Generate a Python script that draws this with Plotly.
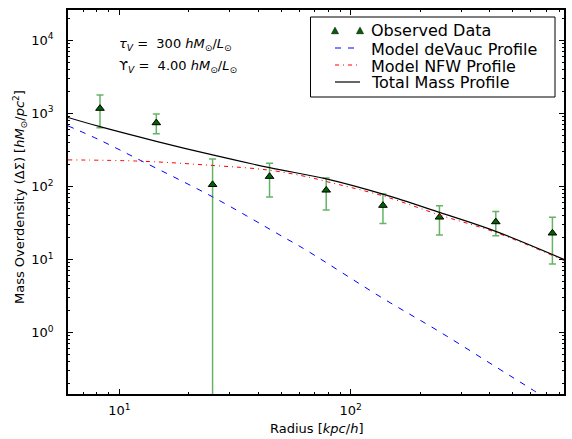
import numpy as np
import plotly.graph_objects as go

# Observed data
radius_obs = [8.25, 14.45, 25.3, 44.6, 78.4, 137.9, 242, 424, 745]
sigma_obs = [1170, 743, 106, 137, 89, 55, 38, 32.8, 23]
err_hi = [1780, 980, 237, 208, 131, 79, 54.3, 45.5, 38]
err_lo = [636, 526, 0.01, 71.5, 47.5, 31.2, 21.6, 21.1, 8.7]

# Model curves
radius_total = [6.0, 8.25, 14.45, 25.3, 44.6, 78.4, 137.9, 242, 424, 850]
sigma_total = [879, 658, 415, 270, 181, 127, 78.5, 44.2, 24.3, 9.8]

radius_nfw = [6.0, 12.3, 25.3, 44.6, 66.7, 78.4, 137.9, 242, 424, 850]
sigma_nfw = [231, 222, 194, 167, 133, 117, 74.3, 40.8, 23.5, 9.5]

radius_dev = [6.0, 8.25, 12.3, 25.3, 49.5, 64.1, 137.9, 242, 424, 615, 850]
sigma_dev = [676, 430, 229, 72.1, 21.6, 13.5, 2.94, 1.03, 0.34, 0.163, 0.085]

x_tickvals = [10, 100]
x_ticktext = ["10<sup>1</sup>", "10<sup>2</sup>"]
y_tickvals = [1, 10, 100, 1000, 10000]
y_ticktext = ["10<sup>0</sup>", "10<sup>1</sup>", "10<sup>2</sup>", "10<sup>3</sup>", "10<sup>4</sup>"]

legend_labels = ["Observed Data", "Model deVauc Profile", "Model NFW Profile", "Total Mass Profile"]

# plot-area geometry in pixels (used for layout placement)
W, H = 572, 439
L, R, T, B = 68, 8, 10, 45
PW, PH = W - L - R, H - T - B


def px(xp):
    return (xp - L) / PW


def py(yp):
    return 1 - (yp - T) / PH


fig = go.Figure()

fig.add_trace(go.Scatter(
    x=radius_obs, y=sigma_obs, mode="markers", name=legend_labels[0],
    marker=dict(symbol="triangle-up", size=7.5, color="#006400",
                line=dict(color="black", width=1)),
    error_y=dict(type="data", symmetric=False,
                 array=[h - v for h, v in zip(err_hi, sigma_obs)],
                 arrayminus=[v - l for l, v in zip(err_lo, sigma_obs)],
                 color="rgba(0,128,0,0.6)", thickness=1.5, width=3.5),
))
fig.add_trace(go.Scatter(
    x=radius_dev, y=sigma_dev, mode="lines", name=legend_labels[1],
    line=dict(color="blue", width=1, dash="6px,7px", shape="spline"),
))
fig.add_trace(go.Scatter(
    x=radius_nfw, y=sigma_nfw, mode="lines", name=legend_labels[2],
    line=dict(color="red", width=1, dash="4px,4px,1px,4px", shape="spline"),
))
fig.add_trace(go.Scatter(
    x=radius_total, y=sigma_total, mode="lines", name=legend_labels[3],
    line=dict(color="black", width=1.2, shape="spline"),
))

axis_common = dict(
    type="log", showgrid=False, zeroline=False, showline=True, automargin=False,
    linecolor="black", linewidth=1.5, mirror="allticks",
    ticks="inside", ticklen=5, tickcolor="black", tickwidth=1,
    tickfont=dict(family="DejaVu Sans", size=13, color="black"),
    minor=dict(ticks="inside", ticklen=2.5, tickcolor="black", dtick="D1", showgrid=False),
)

fig.update_xaxes(**axis_common, range=[np.log10(6.0), np.log10(836)],
                 tickvals=x_tickvals, ticktext=x_ticktext, ticklabelstandoff=4)
fig.update_yaxes(**axis_common, range=[-0.84, 4.415],
                 tickvals=y_tickvals, ticktext=y_ticktext, ticklabelstandoff=10)

txt_font = dict(family="DejaVu Sans", size=13, color="black")

# axis titles
fig.add_annotation(xref="paper", yref="paper", x=0.5, y=py(428), xanchor="center", yanchor="middle",
                   showarrow=False, text="Radius [<i>kpc</i>/<i>h</i>]", font=txt_font)
fig.add_annotation(xref="paper", yref="paper", x=px(20), y=py(197), xanchor="center", yanchor="middle",
                   showarrow=False, textangle=-90,
                   text="Mass Overdensity (ΔΣ) [<i>hM</i><sub>⊙</sub>/<i>pc</i><sup>2</sup>]",
                   font=txt_font)

# parameter text
fig.add_annotation(xref="paper", yref="paper", x=px(117), y=py(44.5),
                   xanchor="left", yanchor="middle", showarrow=False,
                   text="<i>τ</i><sub><i>V</i></sub> =  300 <i>hM</i><sub>⊙</sub>/<i>L</i><sub>⊙</sub>",
                   font=txt_font)
fig.add_annotation(xref="paper", yref="paper", x=px(117), y=py(66),
                   xanchor="left", yanchor="middle", showarrow=False,
                   text="ϒ<sub><i>V</i></sub> =  4.00 <i>hM</i><sub>⊙</sub>/<i>L</i><sub>⊙</sub>",
                   font=txt_font)

# legend (drawn as a box with keys, matching the original layout)
shapes = [dict(type="rect", xref="paper", yref="paper", x0=px(310.5), x1=px(555), y0=py(17), y1=py(97),
               line=dict(color="black", width=1), fillcolor="white", layer="above")]
row_y = [30.7, 48, 65, 82]
text_y = [30.7, 49, 66.5, 83]
for cx in (335, 360):
    cy = row_y[0]
    shapes.append(dict(type="path", xref="paper", yref="paper",
                       path=f"M {px(cx-3.5)},{py(cy+3)} L {px(cx+3.5)},{py(cy+3)} L {px(cx)},{py(cy-3.5)} Z",
                       fillcolor="#006400", line=dict(color="black", width=0.6), layer="above"))
shapes.append(dict(type="line", xref="paper", yref="paper", x0=px(335), x1=px(356), y0=py(row_y[1]), y1=py(row_y[1]),
                   line=dict(color="blue", width=1, dash="6px,7px"), layer="above"))
shapes.append(dict(type="line", xref="paper", yref="paper", x0=px(335), x1=px(358), y0=py(row_y[2]), y1=py(row_y[2]),
                   line=dict(color="red", width=1, dash="4px,4px,1px,4px"), layer="above"))
shapes.append(dict(type="line", xref="paper", yref="paper", x0=px(335), x1=px(360), y0=py(row_y[3]), y1=py(row_y[3]),
                   line=dict(color="black", width=1.2), layer="above"))
for lab, ty in zip(legend_labels, text_y):
    fig.add_annotation(xref="paper", yref="paper", x=px(369), y=py(ty), xanchor="left", yanchor="middle",
                       showarrow=False, text=lab,
                       font=dict(family="DejaVu Sans", size=16, color="black"))

fig.update_layout(
    width=W, height=H,
    margin=dict(l=L, r=R, t=T, b=B),
    paper_bgcolor="white", plot_bgcolor="white",
    font=dict(family="DejaVu Sans", color="black"),
    showlegend=False,
    shapes=shapes,
)

fig.write_html("out.html",
               config={"displayModeBar": False},
               post_script="document.body.style.margin='0';document.body.style.padding='0';"
                           "document.body.style.overflow='hidden';")
